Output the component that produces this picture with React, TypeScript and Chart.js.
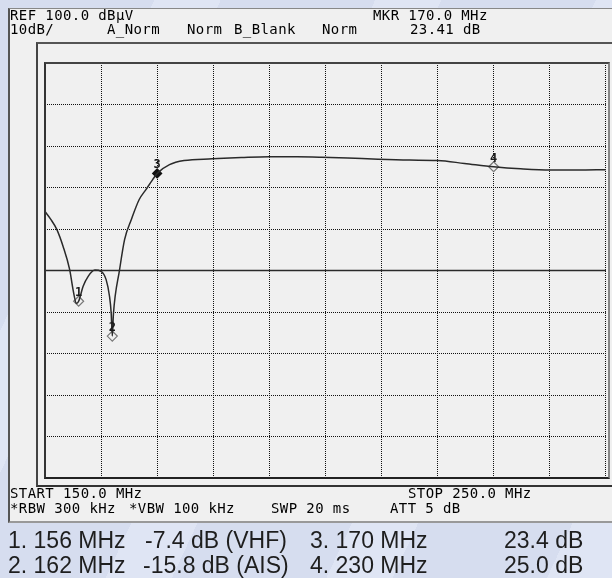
import React, { useEffect, useRef } from "react";
import { Chart, registerables } from "chart.js";

Chart.register(...registerables);

// ---- data ----
const TRACE_FREQ_MHZ = [
  150.0, 151.0, 152.1, 153.2, 154.4, 155.0, 155.6, 156.0, 156.8, 157.7,
  158.9, 160.0, 160.9, 161.5, 161.8, 162.0, 162.2, 163.3, 164.2, 165.4,
  166.8, 168.0, 169.2, 170.0, 172.2, 174.8, 179.8, 185.0, 189.9, 195.0,
  199.3, 204.0, 209.4, 215.0, 220.0, 224.8, 230.0, 234.8, 240.1, 245.0, 250.0,
];
const TRACE_LEVEL_DB = [
  14.2, 12.4, 9.9, 5.9, 0.2, -4.6, -7.9, -7.4, -3.8, -1.4,
  0.1, -0.2, -2.2, -6.2, -10.2, -15.8, -10.5, 0.2, 7.5, 12.3,
  17.1, 19.5, 21.9, 23.4, 25.5, 26.5, 26.9, 27.2, 27.4, 27.4,
  27.3, 27.1, 26.8, 26.6, 26.5, 25.8, 25.0, 24.5, 24.2, 24.2, 24.3,
];
const MARKER_IDS = ["1", "2", "3", "4"];
const MARKER_FREQ_MHZ = [156, 162, 170, 230];
const MARKER_LEVEL_DB = [-7.4, -15.8, 23.4, 25.0];
const ACTIVE_MARKER = 2; // index of marker 3 (filled)
const REF_LINE_FREQ = [150, 250];
const REF_LINE_DB = [0, 0];
const X_START = 150;
const X_STOP = 250;
const X_STEP = 10;
const Y_MIN = -50;
const Y_MAX = 50;
const Y_STEP = 10;

const HEADER_TOP = ["REF 100.0 dBµV", "MKR 170.0 MHz"];
const HEADER_BOTTOM = ["10dB/", "A_Norm", "Norm", "B_Blank", "Norm", "23.41 dB"];
const FOOTER_TOP = ["START 150.0 MHz", "STOP 250.0 MHz"];
const FOOTER_BOTTOM = ["*RBW 300 kHz", "*VBW 100 kHz", "SWP 20 ms", "ATT 5 dB"];
const NOTES_ROW1 = ["1. 156 MHz", "-7.4 dB (VHF)", "3. 170 MHz", "23.4 dB"];
const NOTES_ROW2 = ["2. 162 MHz", "-15.8 dB (AIS)", "4. 230 MHz", "25.0 dB"];

const MONO = '"DejaVu Sans Mono", "Liberation Mono", monospace';
const SANS = '"Liberation Sans", Arial, sans-serif';

const markerLabels = {
  id: "markerLabels",
  afterDatasetsDraw(chart: any) {
    const meta = chart.getDatasetMeta(2);
    const ctx = chart.ctx;
    ctx.save();
    ctx.font = 'bold 12px "DejaVu Sans Mono"';
    ctx.fillStyle = "#1a1a1a";
    ctx.textAlign = "center";
    ctx.textBaseline = "alphabetic";
    meta.data.forEach((pt: any, i: number) => {
      ctx.fillText(MARKER_IDS[i], pt.x, pt.y - 5);
    });
    ctx.restore();
  },
};

function T(props: { x: number; y: number; text: string; size?: number; font?: string; ls?: number; color?: string }) {
  const { x, y, text, size = 14, font = MONO, ls = 0.4, color = "#000" } = props;
  return (
    <span
      style={{
        position: "absolute",
        left: x,
        top: y,
        fontFamily: font,
        fontSize: size,
        lineHeight: 1,
        letterSpacing: ls,
        whiteSpace: "pre",
        color,
      }}
    >
      {text}
    </span>
  );
}

export default function App() {
  const ref = useRef<HTMLCanvasElement>(null);

  useEffect(() => {
    if (!ref.current) return;
    const trace = TRACE_FREQ_MHZ.map((f, i) => ({ x: f, y: TRACE_LEVEL_DB[i] }));
    const refLine = REF_LINE_FREQ.map((f, i) => ({ x: f, y: REF_LINE_DB[i] }));
    const markers = MARKER_FREQ_MHZ.map((f, i) => ({ x: f, y: MARKER_LEVEL_DB[i] }));
    const chart = new Chart(ref.current, {
      type: "line",
      data: {
        datasets: [
          {
            data: refLine,
            borderColor: "#2a2a2a",
            borderWidth: 1.5,
            pointRadius: 0,
          },
          {
            data: trace,
            borderColor: "#2a2a2a",
            borderWidth: 1.5,
            pointRadius: 0,
            cubicInterpolationMode: "monotone",
          },
          {
            data: markers,
            showLine: false,
            pointStyle: "rectRot",
            pointRadius: MARKER_IDS.map((_, i) => (i === ACTIVE_MARKER ? 4.5 : 5)),
            pointBorderWidth: 1.2,
            pointBackgroundColor: MARKER_IDS.map((_, i) => (i === ACTIVE_MARKER ? "#111" : "#f0f0f0")),
            pointBorderColor: MARKER_IDS.map((_, i) => (i === ACTIVE_MARKER ? "#111" : "#777")),
          },
        ],
      },
      options: {
        responsive: false,
        animation: false,
        devicePixelRatio: 1,
        layout: { padding: { left: 45, top: 63, right: 3, bottom: 100 } },
        plugins: { legend: { display: false }, tooltip: { enabled: false }, title: { display: false } },
        scales: {
          x: {
            type: "linear",
            min: X_START,
            max: X_STOP,
            ticks: { display: false, stepSize: X_STEP },
            grid: { color: "#111", lineWidth: 1, drawTicks: false },
            border: { display: false, dash: [1, 1] },
          },
          y: {
            type: "linear",
            min: Y_MIN,
            max: Y_MAX,
            ticks: { display: false, stepSize: Y_STEP },
            grid: { color: "#111", lineWidth: 1, drawTicks: false },
            border: { display: false, dash: [1, 1] },
          },
        },
      },
      plugins: [markerLabels],
    } as any);
    return () => chart.destroy();
  }, []);

  const noteProps = { size: 23, font: SANS, ls: 0, color: "#1e1e1e" };

  return (
    <div
      style={{
        position: "absolute",
        left: 0,
        top: 0,
        width: 612,
        height: 578,
        overflow: "hidden",
        background:
          "repeating-linear-gradient(115deg, #d6ddef 0px, #d6ddef 140px, #dfe5f4 140px, #dfe5f4 200px)",
      }}
    >
      {/* analyzer screen */}
      <div
        style={{
          position: "absolute",
          left: 8,
          top: 8,
          width: 610,
          height: 512,
          background: "#f0f0f0",
          borderLeft: "2px solid #555",
          borderTop: "1px solid #888",
          borderBottom: "2px solid #999",
        }}
      />
      {/* outer frame */}
      <div
        style={{
          position: "absolute",
          left: 36,
          top: 42,
          width: 600,
          height: 445,
          boxSizing: "border-box",
          borderLeft: "2px solid #444",
          borderTop: "2px solid #555",
          borderBottom: "2px solid #333",
        }}
      />
      <canvas ref={ref} width={612} height={578} style={{ position: "absolute", left: 0, top: 0, width: 612, height: 578 }} />
      {/* plot border */}
      <div
        style={{
          position: "absolute",
          left: 44,
          top: 62,
          width: 566,
          height: 417,
          boxSizing: "border-box",
          borderLeft: "2px solid #333",
          borderTop: "2px solid #444",
          borderBottom: "2px solid #222",
          borderRight: "2px solid #888",
        }}
      />
      {/* header */}
      <T x={10} y={8} text={HEADER_TOP[0]} />
      <T x={373} y={8} text={HEADER_TOP[1]} />
      <T x={10} y={22} text={HEADER_BOTTOM[0]} />
      <T x={107} y={22} text={HEADER_BOTTOM[1]} />
      <T x={187} y={22} text={HEADER_BOTTOM[2]} />
      <T x={234} y={22} text={HEADER_BOTTOM[3]} />
      <T x={322} y={22} text={HEADER_BOTTOM[4]} />
      <T x={410} y={22} text={HEADER_BOTTOM[5]} />
      {/* footer */}
      <T x={10} y={486} text={FOOTER_TOP[0]} />
      <T x={408} y={486} text={FOOTER_TOP[1]} />
      <T x={10} y={501} text={FOOTER_BOTTOM[0]} />
      <T x={129} y={501} text={FOOTER_BOTTOM[1]} />
      <T x={271} y={501} text={FOOTER_BOTTOM[2]} />
      <T x={390} y={501} text={FOOTER_BOTTOM[3]} />
      {/* notes */}
      <T x={8} y={528.5} {...noteProps} text={NOTES_ROW1[0]} />
      <T x={145} y={528.5} {...noteProps} text={NOTES_ROW1[1]} />
      <T x={310} y={528.5} {...noteProps} text={NOTES_ROW1[2]} />
      <T x={504} y={528.5} {...noteProps} text={NOTES_ROW1[3]} />
      <T x={8} y={553.5} {...noteProps} text={NOTES_ROW2[0]} />
      <T x={143} y={553.5} {...noteProps} text={NOTES_ROW2[1]} />
      <T x={310} y={553.5} {...noteProps} text={NOTES_ROW2[2]} />
      <T x={504} y={553.5} {...noteProps} text={NOTES_ROW2[3]} />
    </div>
  );
}
